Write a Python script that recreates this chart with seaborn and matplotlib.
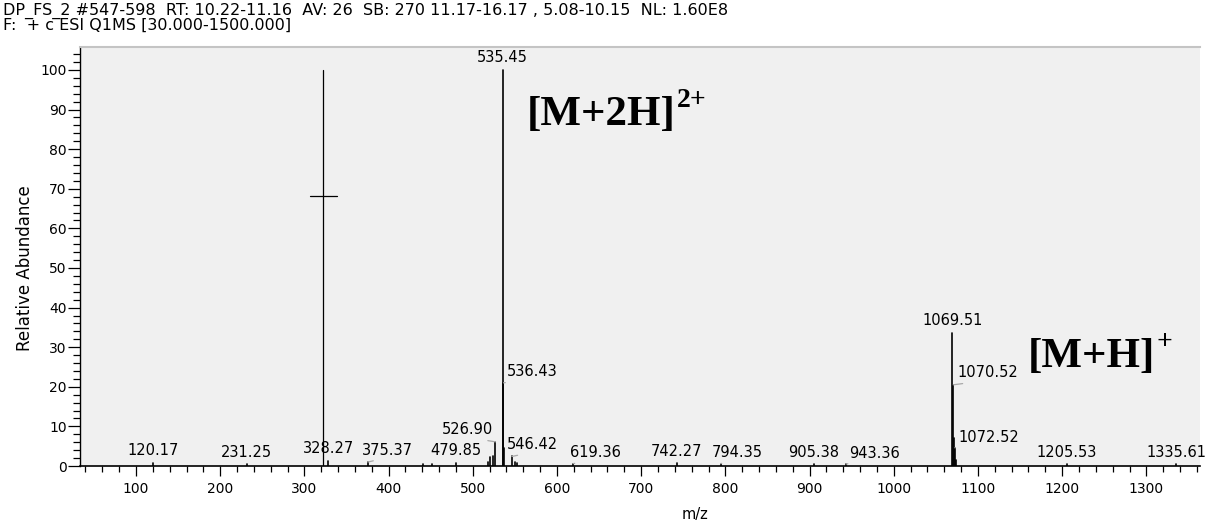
import matplotlib
matplotlib.use("Agg")
import matplotlib.pyplot as plt
from matplotlib.ticker import MultipleLocator, FixedLocator
import pandas as pd
import seaborn as sns

# ---------------- data ----------------
header_line1 = "DP_FS_2 #547-598  RT: 10.22-11.16  AV: 26  SB: 270 11.17-16.17 , 5.08-10.15  NL: 1.60E8"
header_line2 = "F:  + c ESI Q1MS [30.000-1500.000]"

mz = [120.17, 231.25, 328.27, 375.37, 441.0, 452.0, 479.85, 518.4, 520.4, 523.6,
      526.90, 535.45, 536.43, 537.44, 546.42, 550.1, 552.4, 619.36, 742.27, 794.35,
      905.38, 943.36, 1069.51, 1070.52, 1071.52, 1072.52, 1073.5, 1205.53, 1335.61]
intensity = [0.8, 0.5, 1.3, 1.0, 0.5, 0.6, 0.8, 1.0, 2.2, 2.5,
             6.1, 100.0, 21.0, 4.5, 2.4, 1.1, 0.8, 0.6, 0.7, 0.6,
             0.5, 0.5, 33.6, 20.5, 7.0, 4.6, 1.5, 0.4, 0.4]

labeled_mz = [120.17, 231.25, 328.27, 375.37, 479.85, 526.90, 535.45, 536.43, 546.42,
              619.36, 742.27, 794.35, 905.38, 943.36, 1069.51, 1070.52, 1072.52,
              1205.53, 1335.61]

cursor_mz = 322.4
cursor_level = 68.3
cursor_half_width = 16.0

ion_labels = [("[M+2H]", "2+", 564.0, 86.0), ("[M+H]", "+", 1159.0, 25.0)]

x_ticks = list(range(100, 1400, 100))
y_ticks = list(range(0, 110, 10))

# ---------------- layout / style ----------------
# label offsets in pixels (dx, dy) from the peak top to the label centre
default_offset = (0, 12)
shifted_offsets = {375.37: (20, 12), 526.90: (-28, 12), 536.43: (29, 11),
                   546.42: (21, 12), 619.36: (22, 11), 794.35: (17, 11),
                   943.36: (28, 11), 1070.52: (35, 12), 1072.52: (34, 10)}

W, H, DPI = 1209, 522, 100
sns.set_style("white")
plt.rcParams["font.family"] = ["DejaVu Sans"]
for key in ["text.color", "axes.labelcolor", "xtick.color", "ytick.color"]:
    plt.rcParams[key] = "black"

fig = plt.figure(figsize=(W / DPI, H / DPI), dpi=DPI)
ax = fig.add_axes([80 / W, 56 / H, (1200 - 80) / W, (475 - 56) / H])
ax.set_facecolor("#f0f0f0")

# stick spectrum via seaborn
rows = []
for i, (m, h) in enumerate(zip(mz, intensity)):
    rows.append((i, m, 0.0))
    rows.append((i, m, h))
df = pd.DataFrame(rows, columns=["peak", "mz", "ab"])
sns.lineplot(data=df, x="mz", y="ab", units="peak", estimator=None, sort=False,
             color="black", lw=1.2, ax=ax, legend=False)

# cursor line with crosshair
cur = pd.DataFrame({"seg": [0, 0, 1, 1],
                    "mz": [cursor_mz, cursor_mz, cursor_mz - cursor_half_width, cursor_mz + cursor_half_width],
                    "ab": [0.0, 100.0, cursor_level, cursor_level]})
sns.lineplot(data=cur, x="mz", y="ab", units="seg", estimator=None, sort=False,
             color="black", lw=0.9, ax=ax, legend=False)

# peak labels
peak_height = dict(zip(mz, intensity))
for m in labeled_mz:
    h = peak_height[m]
    if m in shifted_offsets:
        dx, dy = shifted_offsets[m]
        ax.annotate(f"{m:.2f}", xy=(m, h), xytext=(dx, dy), textcoords="offset pixels",
                    ha="center", va="center", fontsize=10.5, color="black",
                    arrowprops=dict(arrowstyle="-", color="#a8a8a8", lw=0.9,
                                    shrinkA=0, shrinkB=0, relpos=(0.5, 0.0)))
    else:
        dx, dy = default_offset
        ax.annotate(f"{m:.2f}", xy=(m, h), xytext=(dx, dy), textcoords="offset pixels",
                    ha="center", va="center", fontsize=10.5, color="black")

# ion annotations
for main, sup, x, y in ion_labels:
    t = ax.text(x, y, main, ha="left", va="baseline", fontsize=31, color="black",
                family="Liberation Serif", fontweight="bold")
    ax.annotate(sup, xy=(1.0, 1.0), xycoords=t, xytext=(1, 8), textcoords="offset pixels",
                ha="left", va="top", fontsize=20, color="black",
                family="Liberation Serif", fontweight="bold")

# axes
ax.set_xlim(33.5, 1363.7)
ax.set_ylim(0, 105.8)
ax.xaxis.set_major_locator(FixedLocator(x_ticks))
ax.xaxis.set_minor_locator(MultipleLocator(20))
ax.yaxis.set_major_locator(FixedLocator(y_ticks))
ax.yaxis.set_minor_locator(MultipleLocator(2))
ax.set_xticklabels([str(v) for v in x_ticks])
ax.set_yticklabels([str(v) for v in y_ticks])
ax.tick_params(axis="x", which="major", direction="out", length=7.2, width=0.9, pad=4,
               labelsize=10, bottom=True)
ax.tick_params(axis="x", which="minor", direction="out", length=4.6, width=0.9, bottom=True)
ax.tick_params(axis="y", which="major", direction="out", length=8.6, width=0.9, pad=1,
               labelsize=10, left=True)
ax.tick_params(axis="y", which="minor", direction="out", length=5.0, width=0.9, left=True)

ax.spines["right"].set_visible(False)
ax.spines["top"].set_color("#c4c4c4")
ax.spines["top"].set_linewidth(1.5)
ax.spines["left"].set_color("black")
ax.spines["bottom"].set_color("black")
ax.spines["left"].set_linewidth(1.0)
ax.spines["bottom"].set_linewidth(1.2)

ax.set_xlabel("m/z", fontsize=10.5)
ax.set_ylabel("Relative Abundance", fontsize=12)
ax.xaxis.set_label_coords((695 - 80) / 1120, (466 - 515) / 419)
ax.yaxis.set_label_coords((25 - 80) / 1120, (466 - 268) / 419)
ax.xaxis.label.set_va("center")
ax.yaxis.label.set_va("center")

fig.text(3 / W, 1 - 11 / H, header_line1, ha="left", va="center", fontsize=11.5)
fig.text(3 / W, 1 - 25 / H, header_line2, ha="left", va="center", fontsize=11.5)

fig.savefig("out.png", dpi=DPI, facecolor="white")
